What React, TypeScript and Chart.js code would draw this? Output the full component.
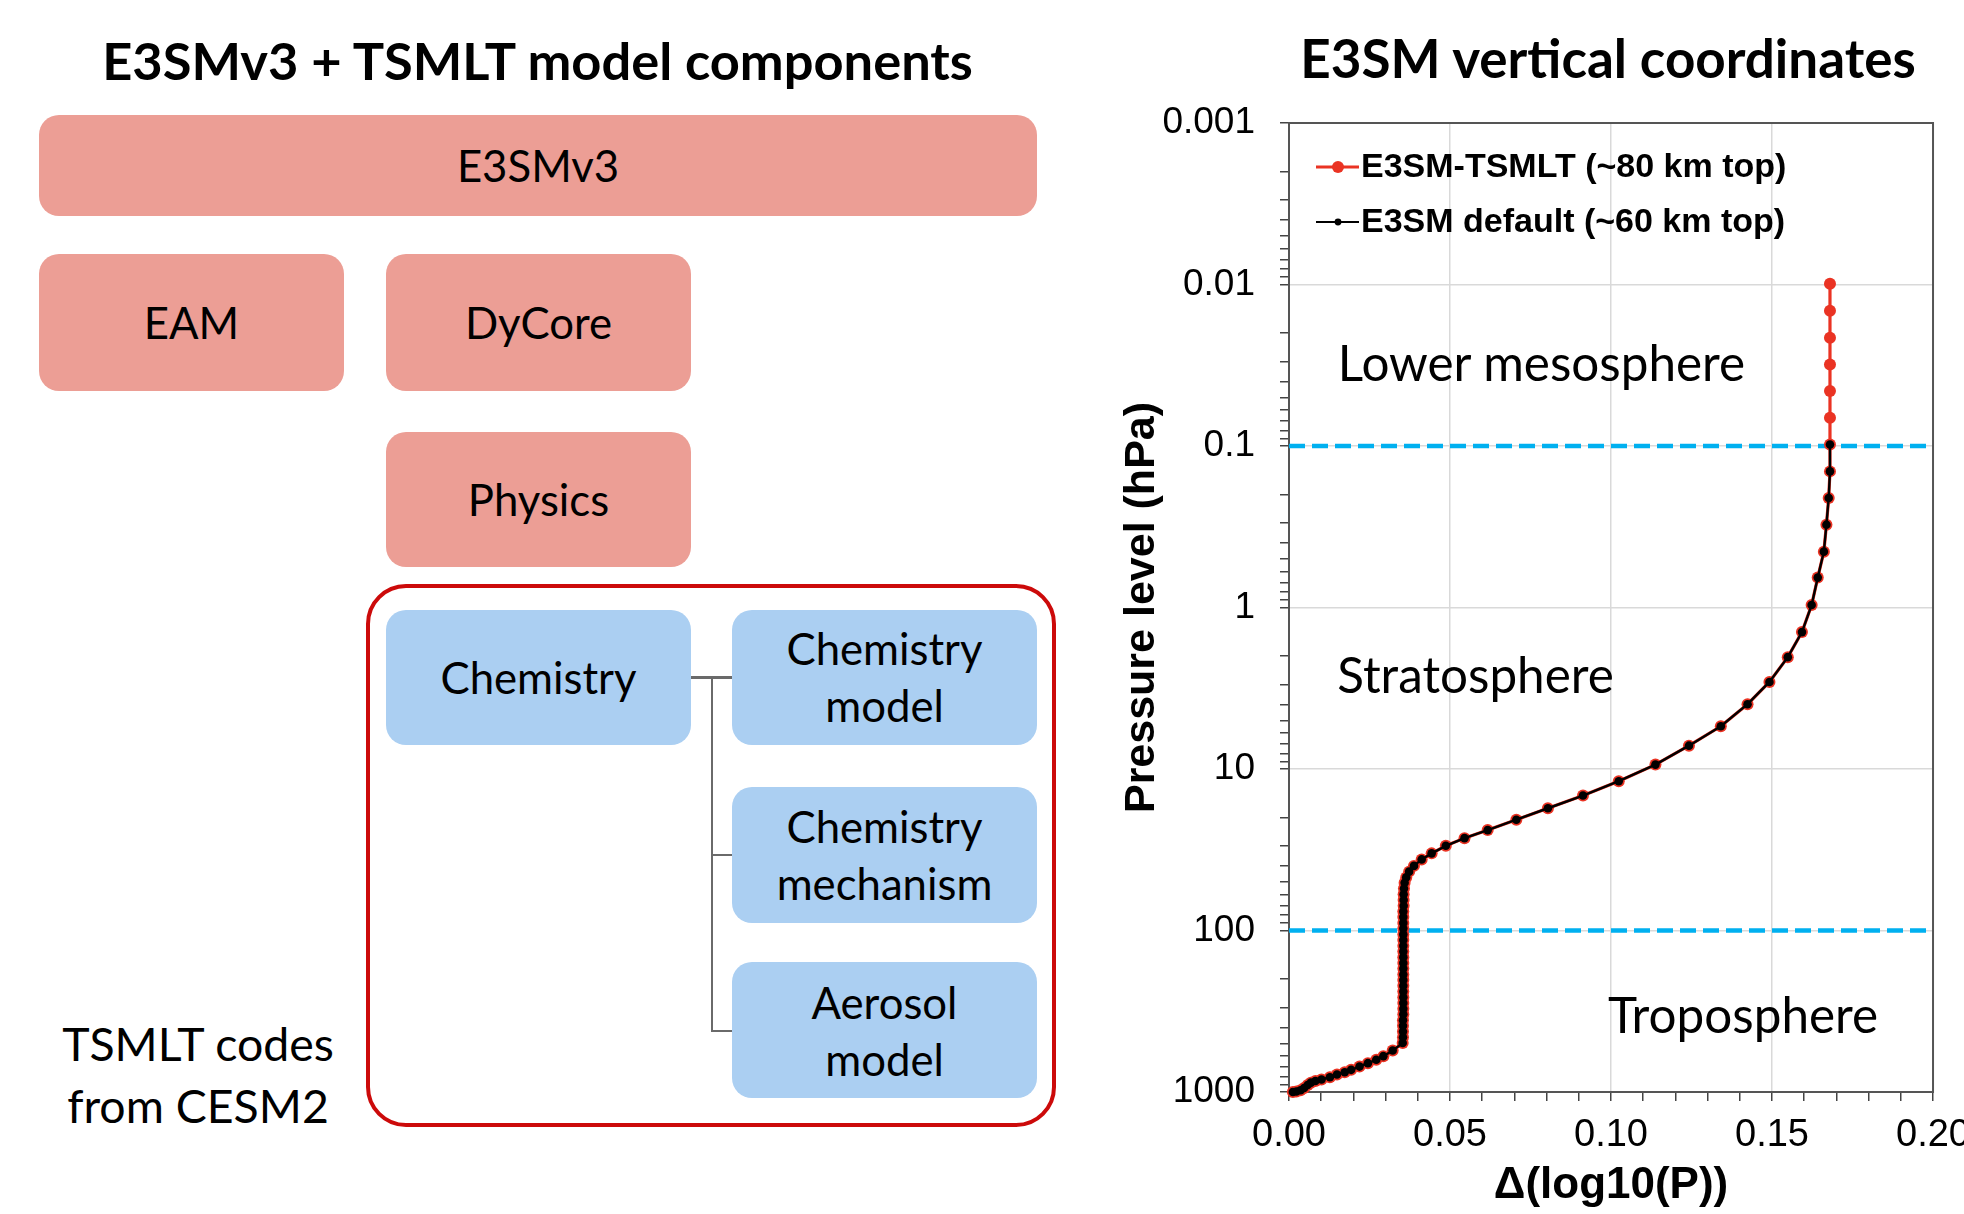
import React, { useEffect, useRef } from 'react';
import { Chart, registerables } from 'chart.js';

Chart.register(...registerables);

// ---------------- data ----------------
// E3SM default vertical grid: pressure level (hPa) and Δ(log10 P)
const defaultPressure = [
  0.098, 0.1436, 0.21, 0.307, 0.451, 0.653, 0.966, 1.42, 2.03, 2.89,
  3.97, 5.44, 7.17, 9.39, 11.9, 14.6, 17.5, 20.6, 23.9, 26.8,
  29.9, 33.3, 36.3, 39.8, 43.2, 46.9, 50.6, 55.0, 59.6, 64.7,
  70.2, 76.2, 82.6, 89.7, 97.3, 105.7, 114.6, 124.5, 134.9, 146.2,
  158.9, 172.2, 187.1, 202.8, 219.8, 238.8, 258.8, 281.2, 304.8, 330.4,
  358.9, 389.0, 421.7, 458.1, 496.6,
  553, 600, 632, 663, 696, 729, 754, 779, 810, 837, 855, 875, 905, 945, 975, 993, 1000,
];
const defaultDlogP = [
  0.168, 0.168, 0.1676, 0.1669, 0.1661, 0.1642, 0.1623, 0.1593, 0.1549, 0.1492,
  0.1424, 0.1341, 0.1242, 0.1138, 0.1024, 0.0913, 0.0804, 0.0706, 0.0617, 0.0545,
  0.0487, 0.0443, 0.0412, 0.0388, 0.0373, 0.0364, 0.0359, 0.0357, 0.0356, 0.0356,
  0.0356, 0.0355, 0.0355, 0.0355, 0.0355, 0.0355, 0.0355, 0.0355, 0.0355, 0.0355,
  0.0355, 0.0355, 0.0355, 0.0355, 0.0355, 0.0355, 0.0355, 0.0355, 0.0355, 0.0355,
  0.0354, 0.0354, 0.0354, 0.0354, 0.0353,
  0.0322, 0.0293, 0.0271, 0.0245, 0.0219, 0.0193, 0.0173, 0.0149, 0.0127, 0.0101,
  0.0082, 0.0068, 0.0058, 0.0047, 0.0036, 0.0023, 0.0012,
];
// extra TSMLT levels above the default model top
const tsmltExtraPressure = [0.0099, 0.01455, 0.0214, 0.0313, 0.0457, 0.0668];
const tsmltExtraDlogP = [0.168, 0.168, 0.168, 0.168, 0.168, 0.168];

const seriesLabels = ['E3SM-TSMLT (~80 km top)', 'E3SM default (~60 km top)'];
const boundaryLevels = [0.1, 100]; // dashed region boundaries (hPa)
const regionNames = ['Lower mesosphere', 'Stratosphere', 'Troposphere'];

const xMin = 0;
const xMax = 0.2;
const xTickValues = [0, 0.01, 0.02, 0.03, 0.04, 0.05, 0.06, 0.07, 0.08, 0.09, 0.1, 0.11, 0.12, 0.13, 0.14, 0.15, 0.16, 0.17, 0.18, 0.19, 0.2];
const xMajorValues = [0, 0.05, 0.1, 0.15, 0.2];
const xMajorLabels = ['0.00', '0.05', '0.10', '0.15', '0.20'];

const yMin = 0.001;
const yMax = 1000;
const yTickValues = [
  0.001, 0.002, 0.003, 0.004, 0.005, 0.006, 0.007, 0.008, 0.009,
  0.01, 0.02, 0.03, 0.04, 0.05, 0.06, 0.07, 0.08, 0.09,
  0.1, 0.2, 0.3, 0.4, 0.5, 0.6, 0.7, 0.8, 0.9,
  1, 2, 3, 4, 5, 6, 7, 8, 9,
  10, 20, 30, 40, 50, 60, 70, 80, 90,
  100, 200, 300, 400, 500, 600, 700, 800, 900,
  1000,
];
const yMajorValues = [0.001, 0.01, 0.1, 1, 10, 100, 1000];
const yMajorLabels = ['0.001', '0.01', '0.1', '1', '10', '100', '1000'];

const leftTitle = 'E3SMv3 + TSMLT model components';
const rightTitle = 'E3SM vertical coordinates';

// ---------------- helpers ----------------
const CHART_FONT = "'Liberation Sans', Arial, Helvetica, sans-serif";
const DIAG_FONT = "Lato, 'Open Sans', sans-serif";

const findIdx = (list: number[], v: number) =>
  list.findIndex((m) => Math.abs(m - v) <= Math.abs(m) * 1e-6 + 1e-9);

let mctx: CanvasRenderingContext2D | null = null;
function fitSize(text: string, width: number, weight: string) {
  if (!mctx) mctx = document.createElement('canvas').getContext('2d');
  mctx!.font = `${weight} 100px ${DIAG_FONT}`;
  return (100 * width) / mctx!.measureText(text).width;
}
const avg = (a: number[]) => a.reduce((s, v) => s + v, 0) / a.length;

function TextLine(props: { text: string; cx: number; cy: number; size: number; weight?: string }) {
  const { text, cx, cy, size, weight = 'normal' } = props;
  return (
    <div
      style={{
        position: 'absolute',
        left: cx - 600,
        width: 1200,
        top: cy - 0.629 * size,
        textAlign: 'center',
        fontFamily: DIAG_FONT,
        fontSize: size,
        fontWeight: weight as any,
        lineHeight: `${1.2 * size}px`,
        whiteSpace: 'nowrap',
        color: '#000',
      }}
    >
      {text}
    </div>
  );
}

function Box(props: { x0: number; y0: number; x1: number; y1: number; fill: string }) {
  const { x0, y0, x1, y1, fill } = props;
  return (
    <div
      style={{
        position: 'absolute',
        left: x0,
        top: y0,
        width: x1 - x0,
        height: y1 - y0,
        background: fill,
        borderRadius: 20,
      }}
    />
  );
}

function Rule(props: { x: number; y: number; w: number; h: number }) {
  return (
    <div style={{ position: 'absolute', left: props.x, top: props.y, width: props.w, height: props.h, background: '#6a6a6a' }} />
  );
}

// ---------------- chart ----------------
const CANVAS_LEFT = 1064;
const CANVAS_W = 918;
const CANVAS_H = 1214;

function VerticalChart() {
  const ref = useRef<HTMLCanvasElement | null>(null);

  useEffect(() => {
    const canvas = ref.current;
    if (!canvas) return;

    const defaultData = defaultPressure.map((p, i) => ({ x: defaultDlogP[i], y: p }));
    const tsmltData = [
      ...tsmltExtraPressure.map((p, i) => ({ x: tsmltExtraDlogP[i], y: p })),
      ...defaultData,
    ];

    const red = '#EA3323';

    const framePlugin = {
      id: 'frameAndLegend',
      beforeDatasetsDraw(chart: any) {
        const { ctx, chartArea: a } = chart;
        ctx.save();
        ctx.strokeStyle = '#555555';
        ctx.lineWidth = 2;
        ctx.strokeRect(a.left, a.top, a.right - a.left, a.bottom - a.top);
        ctx.restore();
      },
      afterDraw(chart: any) {
        const { ctx, chartArea: a } = chart;
        const rows = [
          { label: seriesLabels[0], color: red, lw: 3, r: 6, dy: 44 },
          { label: seriesLabels[1], color: '#000', lw: 2.2, r: 3.4, dy: 99 },
        ];
        ctx.save();
        rows.forEach((row) => {
          const y = a.top + row.dy;
          ctx.strokeStyle = row.color;
          ctx.lineWidth = row.lw;
          ctx.beginPath();
          ctx.moveTo(a.left + 27, y);
          ctx.lineTo(a.left + 70, y);
          ctx.stroke();
          ctx.fillStyle = row.color;
          ctx.beginPath();
          ctx.arc(a.left + 49, y, row.r, 0, Math.PI * 2);
          ctx.fill();
          ctx.fillStyle = '#000';
          ctx.font = `bold 34px ${CHART_FONT}`;
          ctx.textAlign = 'left';
          ctx.textBaseline = 'middle';
          ctx.fillText(row.label, a.left + 72, y + 1);
        });
        ctx.restore();
      },
    };

    const chart = new Chart(canvas, {
      type: 'line',
      data: {
        datasets: [
          {
            label: seriesLabels[1],
            data: defaultData,
            borderColor: '#000000',
            backgroundColor: '#000000',
            borderWidth: 2.4,
            pointRadius: 4.3,
            pointBackgroundColor: '#000000',
            pointBorderWidth: 0,
            tension: 0,
            order: 1,
            clip: false as any,
          },
          {
            label: seriesLabels[0],
            data: tsmltData,
            borderColor: red,
            backgroundColor: red,
            borderWidth: 3.2,
            pointRadius: 6,
            pointBackgroundColor: red,
            pointBorderWidth: 0,
            tension: 0,
            order: 2,
            clip: false as any,
          },
          ...boundaryLevels.map((p) => ({
            label: `boundary ${p} hPa`,
            data: [
              { x: xMin, y: p },
              { x: xMax, y: p },
            ],
            borderColor: '#00B0F0',
            borderWidth: 4.5,
            borderDash: [16, 7],
            pointRadius: 0,
            tension: 0,
            order: 3,
          })),
        ] as any,
      },
      options: {
        responsive: false,
        maintainAspectRatio: false,
        animation: false,
        events: [],
        layout: { padding: { left: 0, top: 123, right: 45, bottom: 0 } },
        plugins: {
          legend: { display: false },
          tooltip: { enabled: false },
        },
        scales: {
          x: {
            type: 'linear',
            min: xMin,
            max: xMax,
            afterBuildTicks: (s: any) => {
              s.ticks = xTickValues.map((v) => ({ value: v }));
            },
            afterFit: (s: any) => {
              s.height = 122;
            },
            ticks: {
              autoSkip: false,
              maxRotation: 0,
              minRotation: 0,
              padding: 12,
              color: '#000',
              font: { family: CHART_FONT, size: 38 },
              callback: (v: any) => {
                const i = findIdx(xMajorValues, Number(v));
                return i >= 0 ? xMajorLabels[i] : '';
              },
            },
            grid: {
              color: (c: any) =>
                c.tick && findIdx(xMajorValues, c.tick.value) >= 0 ? '#d9d9d9' : 'rgba(0,0,0,0)',
              lineWidth: 1.5,
              drawTicks: true,
              tickLength: 9,
              tickWidth: 1.5,
              tickColor: '#444444',
            },
            border: { display: false },
            title: {
              display: true,
              text: 'Δ(log10(P))',
              color: '#000',
              font: { family: CHART_FONT, size: 44, weight: 'bold' },
              padding: { top: 0, bottom: 2 },
            },
          },
          y: {
            type: 'logarithmic',
            min: yMin,
            max: yMax,
            reverse: true,
            afterBuildTicks: (s: any) => {
              s.ticks = yTickValues.map((v) => ({ value: v, major: findIdx(yMajorValues, v) >= 0 }));
            },
            afterFit: (s: any) => {
              s.width = 225;
            },
            ticks: {
              autoSkip: false,
              padding: 25,
              color: '#000',
              font: { family: CHART_FONT, size: 37 },
              callback: (v: any) => {
                const i = findIdx(yMajorValues, Number(v));
                return i >= 0 ? yMajorLabels[i] : '';
              },
            },
            grid: {
              color: (c: any) =>
                c.tick && findIdx(yMajorValues, c.tick.value) >= 0 ? '#d9d9d9' : 'rgba(0,0,0,0)',
              lineWidth: 1.5,
              drawTicks: true,
              tickLength: 9,
              tickWidth: 1.5,
              tickColor: '#444444',
            },
            border: { display: false },
            title: {
              display: true,
              text: 'Pressure level (hPa)',
              color: '#000',
              font: { family: CHART_FONT, size: 43, weight: 'bold' },
              padding: { top: 52, bottom: 0 },
            },
          },
        },
      } as any,
      plugins: [framePlugin],
    });

    return () => chart.destroy();
  }, []);

  return (
    <canvas
      ref={ref}
      width={CANVAS_W}
      height={CANVAS_H}
      style={{ position: 'absolute', left: CANVAS_LEFT, top: 0, width: CANVAS_W, height: CANVAS_H }}
    />
  );
}

// ---------------- app ----------------
export default function App() {
  const pink = '#EC9E95';
  const blue = '#ABCFF2';

  const titleLSize = fitSize(leftTitle, 874, 'bold');
  const titleRSize = fitSize(rightTitle, 617, 'bold');
  const boxSize = avg([
    fitSize('Chemistry', 196, 'normal'),
    fitSize('mechanism', 221, 'normal'),
    fitSize('Physics', 140, 'normal'),
    fitSize('DyCore', 140, 'normal'),
    fitSize('E3SMv3', 169, 'normal'),
    fitSize('Aerosol', 145, 'normal'),
  ]);
  const noteSize = avg([fitSize('TSMLT codes', 272, 'normal'), fitSize('from CESM2', 263, 'normal')]);
  const regionSize = avg([
    fitSize(regionNames[0], 407, 'normal'),
    fitSize(regionNames[1], 276, 'normal'),
    fitSize(regionNames[2], 272, 'normal'),
  ]);

  return (
    <div
      style={{
        position: 'fixed',
        left: 0,
        top: 0,
        width: 1964,
        height: 1214,
        overflow: 'hidden',
        background: '#ffffff',
      }}
    >
      {/* Left: model components diagram */}
      <TextLine text={leftTitle} cx={537.5} cy={62} size={titleLSize} weight="bold" />

      <Box x0={39} y0={115} x1={1037} y1={216} fill={pink} />
      <TextLine text="E3SMv3" cx={538} cy={166} size={boxSize} />

      <Box x0={39} y0={254} x1={344} y1={391} fill={pink} />
      <TextLine text="EAM" cx={191.5} cy={323} size={boxSize} />

      <Box x0={386} y0={254} x1={691} y1={391} fill={pink} />
      <TextLine text="DyCore" cx={538.5} cy={323} size={boxSize} />

      <Box x0={386} y0={432} x1={691} y1={567} fill={pink} />
      <TextLine text="Physics" cx={538.5} cy={500} size={boxSize} />

      <div
        style={{
          position: 'absolute',
          left: 366,
          top: 584,
          width: 690,
          height: 543,
          border: '4.5px solid #CC0A0A',
          borderRadius: 40,
          boxSizing: 'border-box',
        }}
      />

      <Rule x={691} y={676} w={41} h={2.5} />
      <Rule x={710.5} y={676} w={2.5} h={356} />
      <Rule x={711} y={853.5} w={21} h={2.5} />
      <Rule x={711} y={1029.5} w={21} h={2.5} />

      <Box x0={386} y0={610} x1={691} y1={745} fill={blue} />
      <TextLine text="Chemistry" cx={538.5} cy={678} size={boxSize} />

      <Box x0={732} y0={610} x1={1037} y1={745} fill={blue} />
      <TextLine text="Chemistry" cx={884.5} cy={649} size={boxSize} />
      <TextLine text="model" cx={884.5} cy={706} size={boxSize} />

      <Box x0={732} y0={787} x1={1037} y1={923} fill={blue} />
      <TextLine text="Chemistry" cx={884.5} cy={827} size={boxSize} />
      <TextLine text="mechanism" cx={884.5} cy={884} size={boxSize} />

      <Box x0={732} y0={962} x1={1037} y1={1098} fill={blue} />
      <TextLine text="Aerosol" cx={884.5} cy={1003} size={boxSize} />
      <TextLine text="model" cx={884.5} cy={1060} size={boxSize} />

      <TextLine text="TSMLT codes" cx={198} cy={1045} size={noteSize} />
      <TextLine text="from CESM2" cx={198} cy={1107} size={noteSize} />

      {/* Right: vertical coordinates chart */}
      <TextLine text={rightTitle} cx={1608} cy={59} size={titleRSize} weight="bold" />
      <VerticalChart />
      <TextLine text={regionNames[0]} cx={1541.5} cy={364} size={regionSize} />
      <TextLine text={regionNames[1]} cx={1475.5} cy={676.5} size={regionSize} />
      <TextLine text={regionNames[2]} cx={1743} cy={1016} size={regionSize} />
    </div>
  );
}
